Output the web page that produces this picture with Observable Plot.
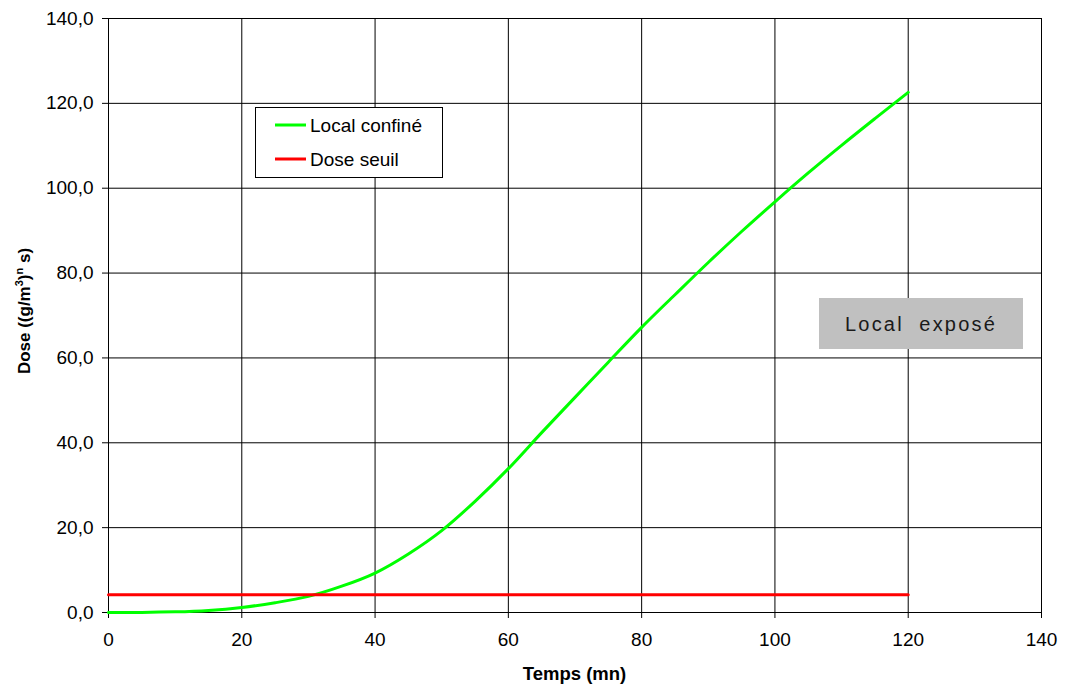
<!DOCTYPE html>
<html><head><meta charset="utf-8">
<script src="https://cdn.jsdelivr.net/npm/d3@7"></script>
<script src="https://cdn.jsdelivr.net/npm/@observablehq/plot@0.6"></script>
<style>
body{margin:0;background:#fff;}
#wrap{position:relative;width:1072px;height:686px;}
svg{display:block;}
</style></head><body><div id="wrap"></div>
<script>
// Data
const temps = [0,5,10,15,20,25,30,35,40,45,50,55,60,65,70,75,80,85,90,95,100,105,110,115,120];
const doseConfine = [0,0.02,0.15,0.5,1.2,2.3,3.8,6.2,9.3,13.8,19.3,26.2,33.9,42.4,50.7,59.0,67.2,74.9,82.5,89.8,96.8,103.6,110.1,116.4,122.6];
const seuilTemps = [0,120];
const seuilDose = [4.2,4.2];
const xTicks = [0,20,40,60,80,100,120,140];
const yTicks = [0,20,40,60,80,100,120,140];
const seriesNames = ["Local confiné","Dose seuil"];
const seriesColors = ["#00ff00","#ff0000"];
const annotationText = "Local  exposé";
const xLabel = "Temps (mn)";

const confine = temps.map((t,i)=>({t, d: doseConfine[i]}));
const seuil = seuilTemps.map((t,i)=>({t, d: seuilDose[i]}));

const W = 1072, H = 686;
const FONT = "'Liberation Sans', Arial, sans-serif";

const plot = Plot.plot({
  width: W, height: H,
  marginLeft: 108, marginRight: 31, marginTop: 18, marginBottom: 74,
  style: {fontFamily: FONT, fontSize: "19px", color: "#000", background: "#fff"},
  x: {domain: [0,140], label: null},
  y: {domain: [0,140], label: null},
  marks: [
    Plot.gridX(xTicks, {stroke: "#000", strokeOpacity: 1, strokeWidth: 1}),
    Plot.gridY(yTicks, {stroke: "#000", strokeOpacity: 1, strokeWidth: 1}),
    Plot.frame({stroke: "#000", strokeWidth: 1}),
    Plot.axisX({ticks: xTicks, tickSize: 6, tickPadding: 14, label: null, fontSize: 19}),
    Plot.axisY({ticks: yTicks, tickSize: 6, tickPadding: 9, label: null, fontSize: 19,
      tickFormat: d => d.toFixed(1).replace(".", ",")}),
    Plot.line(confine, {x: "t", y: "d", stroke: seriesColors[0], strokeWidth: 3, curve: "monotone-x"}),
    Plot.line(seuil, {x: "t", y: "d", stroke: seriesColors[1], strokeWidth: 3})
  ]
});
document.getElementById("wrap").appendChild(plot);

const svg = d3.select(plot);

// X axis title
svg.append("text")
  .attr("x", 574.5).attr("y", 680)
  .attr("text-anchor", "middle")
  .attr("font-family", FONT).attr("font-size", 18.5).attr("font-weight", "bold")
  .attr("fill", "#000")
  .text(xLabel);

// Y axis title with superscripts
const yl = svg.append("text")
  .attr("transform", "translate(30,311) rotate(-90)")
  .attr("text-anchor", "middle")
  .attr("font-family", FONT).attr("font-size", 17).attr("font-weight", "bold")
  .attr("fill", "#000");
yl.append("tspan").text("Dose ((g/m");
yl.append("tspan").attr("dy", -7).attr("font-size", 11).text("3");
yl.append("tspan").attr("dy", 7).text(")");
yl.append("tspan").attr("dy", -7).attr("font-size", 11).text("n");
yl.append("tspan").attr("dy", 7).text(" s)");

// Legend
const lg = svg.append("g").attr("text-anchor", "start");
lg.append("rect").attr("x", 255.5).attr("y", 107.5).attr("width", 187).attr("height", 70)
  .attr("fill", "#fff").attr("stroke", "#000").attr("stroke-width", 1);
seriesNames.forEach((name, i) => {
  const cy = 125 + i * 34;
  lg.append("line").attr("x1", 275).attr("x2", 306).attr("y1", cy).attr("y2", cy)
    .attr("stroke", seriesColors[i]).attr("stroke-width", 3);
  lg.append("text").attr("x", 310).attr("y", cy + 7)
    .attr("text-anchor", "start")
    .attr("font-family", FONT).attr("font-size", 19).attr("fill", "#000").text(name);
});

// Annotation box
svg.append("rect").attr("x", 819).attr("y", 298).attr("width", 204).attr("height", 51)
  .attr("fill", "#c0c0c0");
svg.append("text").attr("x", 921).attr("y", 331)
  .attr("text-anchor", "middle")
  .attr("font-family", FONT).attr("font-size", 20).attr("letter-spacing", 2.2)
  .attr("fill", "#1a1a1a").attr("xml:space", "preserve").style("white-space", "pre")
  .text(annotationText);
</script>
</body></html>
